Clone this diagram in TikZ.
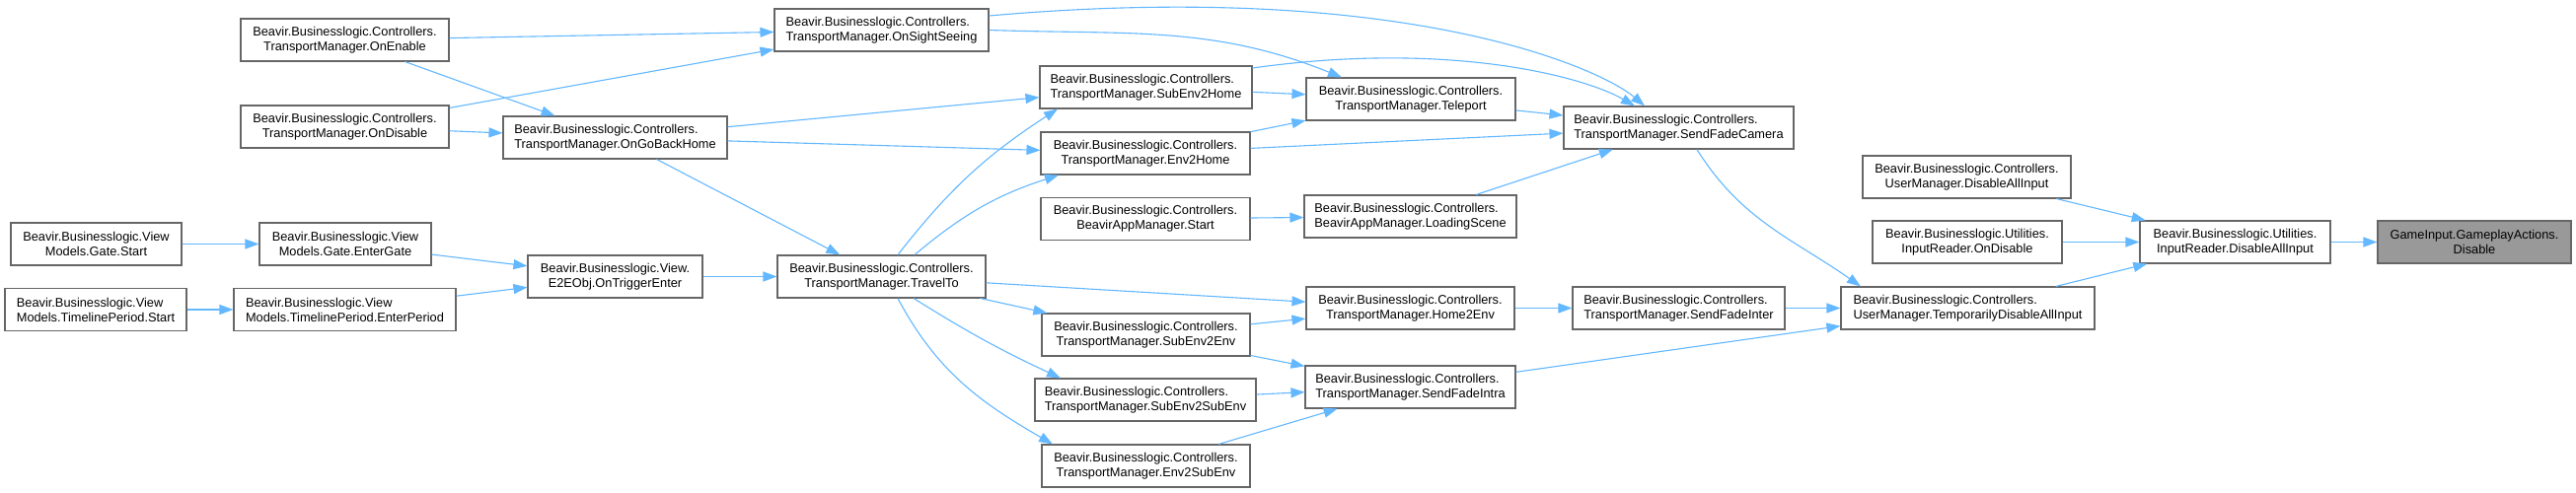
\documentclass[tikz,border=0pt]{standalone}
\usepackage{fontspec}
\setmainfont{Liberation Sans}
\usepackage{xcolor}
\usepackage{tikz}
\usetikzlibrary{arrows.meta}
\definecolor{cazul}{HTML}{63B8FF}
\definecolor{cgris}{HTML}{666666}
\definecolor{cgrisc}{HTML}{999999}
\tikzset{
  caja/.style={rectangle, draw=cgris, fill=white, line width=1.1pt, align=center,
    minimum height=43pt, inner xsep=0pt, inner ysep=0pt, font=\fontsize{12.8}{15}\selectfont},
  cajai/.style={caja, align=left},
  cajag/.style={caja, fill=cgrisc},
  flecha/.style={-{Triangle[length=14pt, width=10pt]}, line width=1.1pt, draw=cazul},
}

\begin{document}
\begin{tikzpicture}[x=1pt, y=1pt]
  \path[use as bounding box, fill=white] (0,0) rectangle (2611,-499);
  \node[caja, minimum width=211pt] (onen) at (349.5,-40.5) {Beavir.Businesslogic.Controllers.\\TransportManager.OnEnable};
  \node[caja, minimum width=211pt] (ondis) at (349.5,-128.5) {Beavir.Businesslogic.Controllers.\\TransportManager.OnDisable};
  \node[cajai, minimum width=227pt] (ogbh) at (623.5,-139.5) {Beavir.Businesslogic.Controllers.\\TransportManager.OnGoBackHome};
  \node[caja, minimum width=173pt] (gst) at (97.5,-247.5) {Beavir.Businesslogic.View\\Models.Gate.Start};
  \node[caja, minimum width=174pt] (egate) at (350,-247.5) {Beavir.Businesslogic.View\\Models.Gate.EnterGate};
  \node[cajai, minimum width=184pt] (tst) at (97,-314) {Beavir.Businesslogic.View\\Models.TimelinePeriod.Start};
  \node[cajai, minimum width=225pt] (eper) at (349.5,-314) {Beavir.Businesslogic.View\\Models.TimelinePeriod.EnterPeriod};
  \node[caja, minimum width=177pt] (otrig) at (623.5,-280.5) {Beavir.Businesslogic.View.\\E2EObj.OnTriggerEnter};
  \node[cajai, minimum width=217pt] (oss) at (893.5,-30.5) {Beavir.Businesslogic.Controllers.\\TransportManager.OnSightSeeing};
  \node[caja, minimum width=211pt] (tt) at (893.5,-280.5) {Beavir.Businesslogic.Controllers.\\TransportManager.TravelTo};
  \node[cajai, minimum width=215pt] (s2h) at (1161.5,-88.5) {Beavir.Businesslogic.Controllers.\\TransportManager.SubEnv2Home};
  \node[caja, minimum width=212pt] (e2h) at (1161,-155.5) {Beavir.Businesslogic.Controllers.\\TransportManager.Env2Home};
  \node[caja, minimum width=212pt] (bst) at (1161,-222) {Beavir.Businesslogic.Controllers.\\BeavirAppManager.Start};
  \node[caja, minimum width=211pt] (s2e) at (1161.5,-339.5) {Beavir.Businesslogic.Controllers.\\TransportManager.SubEnv2Env};
  \node[cajai, minimum width=224pt] (s2s) at (1161,-405.5) {Beavir.Businesslogic.Controllers.\\TransportManager.SubEnv2SubEnv};
  \node[caja, minimum width=211pt] (e2s) at (1161.5,-472.5) {Beavir.Businesslogic.Controllers.\\TransportManager.Env2SubEnv};
  \node[caja, minimum width=212pt] (tel) at (1430,-100.5) {Beavir.Businesslogic.Controllers.\\TransportManager.Teleport};
  \node[cajai, minimum width=215pt] (lsc) at (1429.5,-219.5) {Beavir.Businesslogic.Controllers.\\BeavirAppManager.LoadingScene};
  \node[caja, minimum width=211pt] (h2e) at (1429.5,-312.5) {Beavir.Businesslogic.Controllers.\\TransportManager.Home2Env};
  \node[cajai, minimum width=213pt] (sfintra) at (1429.5,-392.5) {Beavir.Businesslogic.Controllers.\\TransportManager.SendFadeIntra};
  \node[cajai, minimum width=233pt] (sfc) at (1701.5,-129.5) {Beavir.Businesslogic.Controllers.\\TransportManager.SendFadeCamera};
  \node[cajai, minimum width=215pt] (sfinter) at (1701.5,-312.5) {Beavir.Businesslogic.Controllers.\\TransportManager.SendFadeInter};
  \node[caja, minimum width=211pt] (udai) at (1993.5,-179.5) {Beavir.Businesslogic.Controllers.\\UserManager.DisableAllInput};
  \node[caja, minimum width=192pt] (iond) at (1994,-245.5) {Beavir.Businesslogic.Utilities.\\InputReader.OnDisable};
  \node[cajai, minimum width=257pt] (tdai) at (1994.5,-312.5) {Beavir.Businesslogic.Controllers.\\UserManager.TemporarilyDisableAllInput};
  \node[caja, minimum width=193pt] (idai) at (2265.5,-245.5) {Beavir.Businesslogic.Utilities.\\InputReader.DisableAllInput};
  \node[cajag, minimum width=196pt] (gad) at (2508,-245.5) {GameInput.GameplayActions.\\Disable};
  \draw[flecha] (idai)--(gad); \draw[flecha] (udai)--(idai); \draw[flecha] (iond)--(idai); \draw[flecha] (tdai)--(idai);
  \draw[flecha] (sfinter)--(tdai); \draw[flecha] (sfintra)--(tdai); \draw[flecha] (h2e)--(sfinter);
  \draw[flecha] ([xshift=18.5pt]sfc.south) to[out=-58, in=145] ([xshift=-108.5pt]tdai.north);
  \draw[flecha] ([yshift=14.5pt]oss.east) .. controls +(418,37) and +(-46,39) .. ([xshift=-34.5pt]sfc.north);
  \draw[flecha] ([yshift=19.5pt]s2h.east) .. controls +(198,28) and +(-52,30) .. ([xshift=-44.5pt]sfc.north);
  \draw[flecha] (tel)--(sfc); \draw[flecha] (e2h)--(sfc); \draw[flecha] (lsc)--(sfc);
  \draw[flecha] (oss.east) to[out=-2, in=158] ([xshift=-70pt]tel.north);
  \draw[flecha] (s2h)--(tel); \draw[flecha] (e2h)--(tel); \draw[flecha] (bst)--(lsc);
  \draw[flecha] (ogbh)--(s2h); \draw[flecha] (ogbh)--(e2h); \draw[flecha] (ogbh)--(tt);
  \draw[flecha] ([xshift=16.5pt]tt.north) to[out=52, in=213] ([xshift=-89.5pt]s2h.south);
  \draw[flecha] ([xshift=33.5pt]tt.north) to[out=40, in=198] ([xshift=-88pt]e2h.south);
  \draw[flecha] (onen)--(oss); \draw[flecha] (ondis)--(oss); \draw[flecha] (onen)--(ogbh); \draw[flecha] (ondis)--(ogbh);
  \draw[flecha] (otrig)--(tt); \draw[flecha] (egate)--(otrig); \draw[flecha] (eper)--(otrig);
  \draw[flecha] (gst)--(egate); \draw[flecha] (tst)--(eper);
  \draw[flecha] (tt)--(h2e); \draw[flecha] (tt)--(s2e);
  \draw[flecha] ([xshift=32.5pt]tt.south) to[out=-32, in=155] ([xshift=-86pt]s2s.north);
  \draw[flecha] ([xshift=16.5pt]tt.south) to[out=-62, in=150] ([xshift=-94.5pt]e2s.north);
  \draw[flecha] (s2e)--(h2e); \draw[flecha] (s2e)--(sfintra); \draw[flecha] (s2s)--(sfintra); \draw[flecha] (e2s)--(sfintra);
\end{tikzpicture}
\end{document}
